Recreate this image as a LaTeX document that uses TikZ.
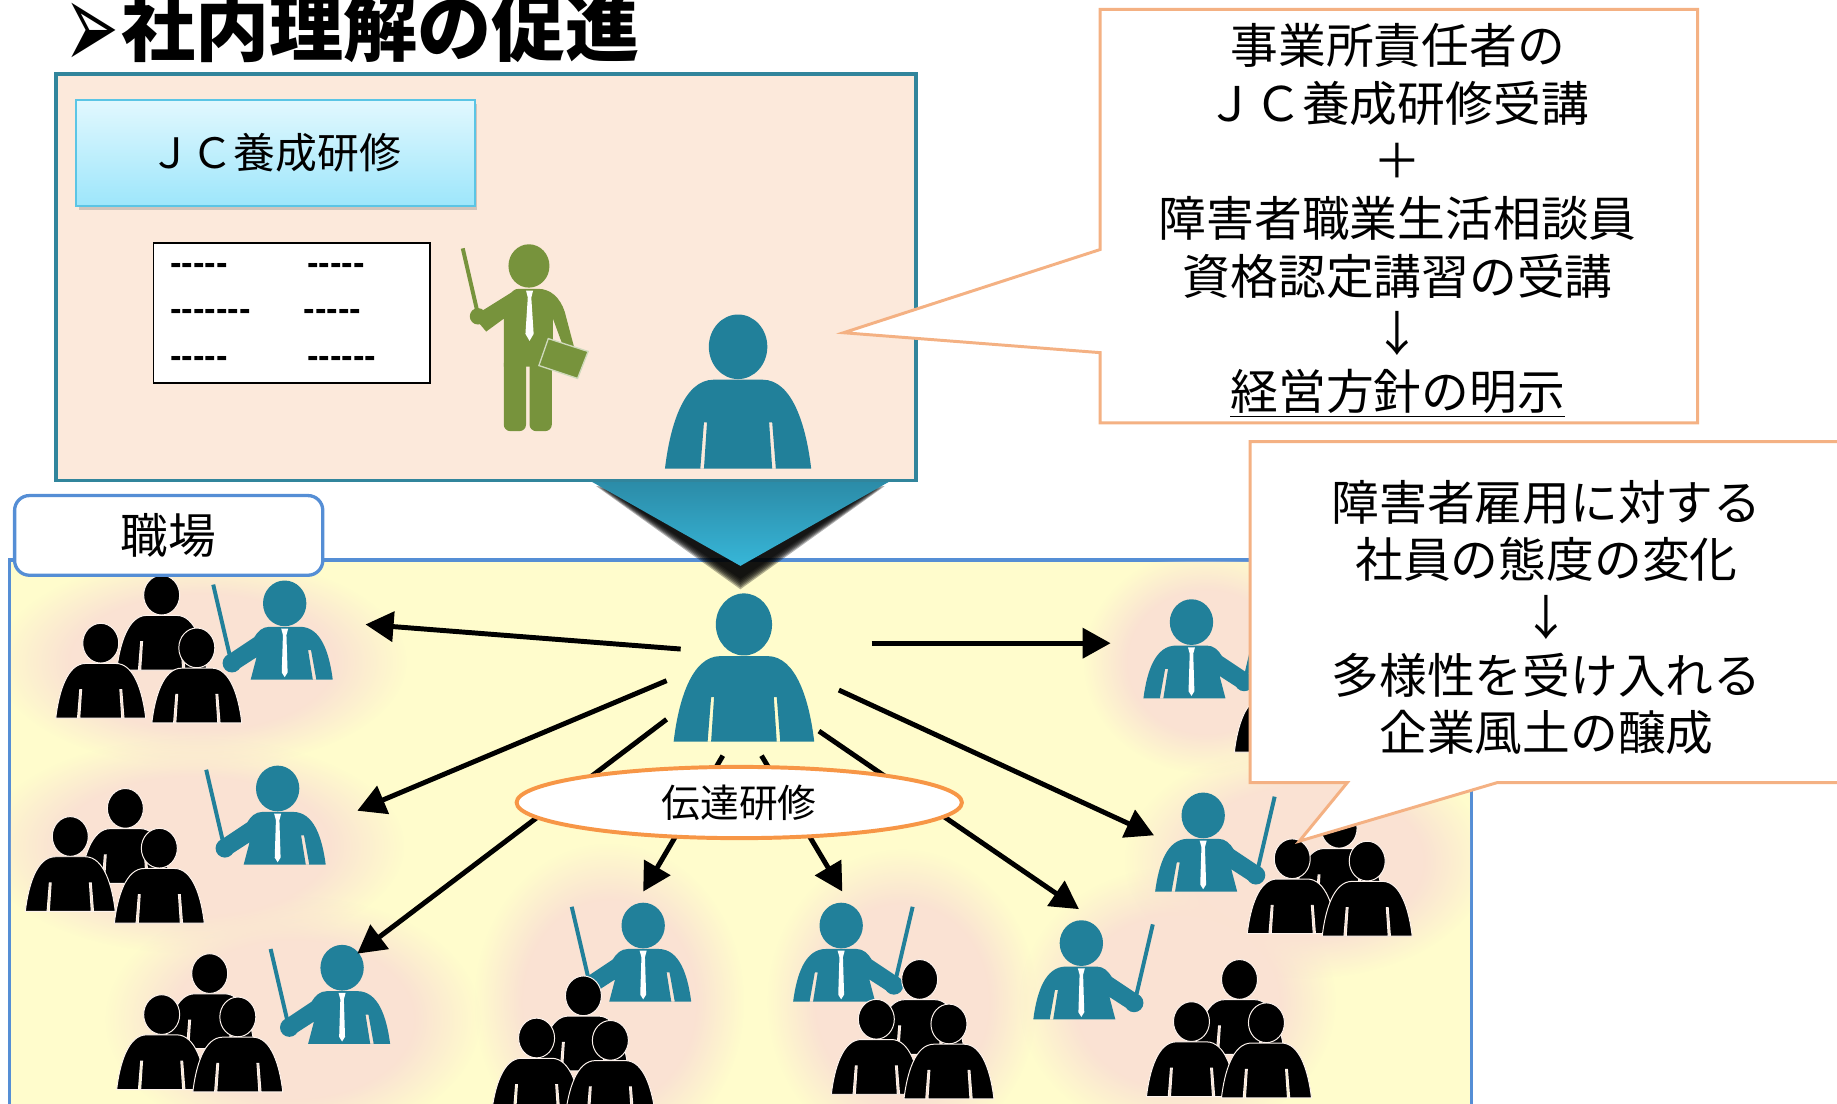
\documentclass[tikz,border=0pt]{standalone}
\usepackage{fontspec}
\usetikzlibrary{arrows.meta, fit, shapes.geometric, shadows, fadings}

\newfontfamily\jp{Noto Sans CJK JP}
\newfontfamily\dingfont{DejaVu Sans}
\newfontfamily\dashfont{Liberation Sans}[Ligatures=TeXOff]

\definecolor{deskpeach}{HTML}{FCE9DB}
\definecolor{frameteal}{HTML}{31859C}
\definecolor{figteal}{HTML}{21809A}
\definecolor{figgreen}{HTML}{77933C}
\definecolor{jctop}{HTML}{E2F8FE}
\definecolor{jcbot}{HTML}{9DE6FB}
\definecolor{jcline}{HTML}{5BC5E5}
\definecolor{floorfill}{HTML}{FFFCCC}
\definecolor{floorline}{HTML}{558ED5}
\definecolor{glowpeach}{HTML}{FAE2D3}
\definecolor{calloutline}{HTML}{F4B183}
\definecolor{ringorange}{HTML}{F79646}
\definecolor{chevtop}{HTML}{2B8BA7}
\definecolor{chevbot}{HTML}{37B6D8}

\pgfdeclareradialshading{blobmask}{\pgfpointorigin}{color(0bp)=(pgftransparent!0); color(16bp)=(pgftransparent!0); color(25bp)=(pgftransparent!100); color(50bp)=(pgftransparent!100)}
\pgfdeclarefading{softblob}{\pgfuseshading{blobmask}}

\tikzset{
  % plain figure, head at the origin
  figure/.pic={
    \path[figbody] (0,0) ellipse (24 and 26.5);
    \path[figbody, even odd rule] (-60,100) .. controls (-56,66) and (-45,27) .. (-20,27) -- (20,27) .. controls (45,27) and (56,66) .. (60,100) -- cycle
      (-28,62) -- (-25.5,62) -- (-28,100) -- (-31,100) -- cycle
      (28,62) -- (25.5,62) -- (28,100) -- (31,100) -- cycle;
  },
  figbody/.style={fill},
  % figure with pointer and tie
  teacher/.pic={
    \draw[line width=2.4pt] (-61,-16) -- (-47,44);
    \fill (0,0) ellipse (18.5 and 19.5);
    \fill[even odd rule] (41,65) .. controls (38,42) and (31,20) .. (13,20) -- (-13,20) .. controls (-19,20) and (-23,24) .. (-26,29) -- (-50,45) -- (-41,57) -- (-24,46) -- (-29,65) -- cycle
      (20,40) -- (22.5,40) -- (27,65) -- (24,65) -- cycle;
    \fill (-45,51) circle (8);
    \fill[white] (-3,21.5) -- (3,21.5) -- (1.5,27) -- (2.5,59) -- (0,63) -- (-2.5,59) -- (-1.5,27) -- cycle;
  },
  crowd/.style={scale=.64, figbody/.style={fill=black, draw=glowpeach!40!white, line width=.6pt}},
  deskbox/.style={draw=frameteal, fill=deskpeach, line width=2.2pt, inner sep=0pt},
  floorbox/.style={draw=floorline, fill=floorfill, line width=2.2pt, inner sep=0pt},
  jcbox/.style={draw=jcline, line width=1.2pt, top color=jctop, bottom color=jcbot,
    drop shadow={shadow xshift=1.5pt, shadow yshift=-2.5pt, opacity=.35},
    minimum width=8.5cm, minimum height=2.27cm, font=\jp\fontsize{25.4pt}{25.4pt}\selectfont},
  board/.style={draw=black, fill=white, line width=1.1pt, minimum width=5.9cm, minimum height=2.99cm},
  dashrow/.style={anchor=west, inner sep=0pt, font=\dashfont\bfseries\fontsize{21pt}{21pt}\selectfont},
  callout/.style={draw=calloutline, fill=white, line width=1.8pt},
  calltext/.style={align=center, inner sep=0pt, font=\jp\fontsize{29pt}{35pt}\selectfont},
  ring/.style={ellipse, draw=ringorange, fill=white, line width=2.4pt, minimum width=9.5cm,
    minimum height=1.52cm, inner sep=0pt, font=\jp\fontsize{23.5pt}{23.5pt}\selectfont},
  tagbox/.style={draw=floorline, fill=white, rounded corners=9pt, line width=2pt,
    minimum width=6.575cm, minimum height=1.7cm, font=\jp\fontsize{29pt}{29pt}\selectfont},
  push/.style={line width=3pt, -{Triangle[length=17pt, width=18pt]}},
}

\begin{document}
\begin{tikzpicture}[x=0.025cm, y=-0.025cm]
\useasboundingbox (0,0) rectangle (1568,942);
\clip (0,0) rectangle (1568,942);

% workplace
\node[floorbox, fit={(8,478) (1256,960)}] (floor) {};
\begin{scope}
  \clip (9,479) rectangle (1255,960);
  \foreach \cx/\cy/\rx/\ry in {172/565/175/90, 165/722/180/92, 250/870/160/105, 520/855/115/135,
      770/855/115/130, 1005/855/135/115, 1115/735/155/100, 1030/565/105/95}
    \fill[glowpeach, path fading=softblob] (\cx,\cy) ellipse [x radius=\rx, y radius=\ry];
\end{scope}

% trainers in each group
\foreach \tx/\ty/\side in {243/515/1, 237/673/1, 292/826/1, 549/790/1,
    718/790/-1, 923/805/-1, 1027/696/-1, 1017/531/-1}
  \pic[color=figteal, xscale=\side] at (\tx,\ty) {teacher};

% colleagues
\foreach \bx/\by/\lx/\ly/\rx/\ry in {138/508/86/549/168/553, 107/690/60/714/136/724,
    179/831/138/866/203/868, 498/850/458/886/521/888, 785/836/748/870/810/874,
    1058/836/1017/872/1081/873, 1143/707/1103/733/1167/735, 1130/555/1092/578/1158/582} {
  \pic[crowd] at (\bx,\by) {figure};
  \pic[crowd] at (\lx,\ly) {figure};
  \pic[crowd] at (\rx,\ry) {figure};
}

% relay arrows
\coordinate (lead) at (635,533);
\foreach \i/\sx/\sy/\gx/\gy in {1/581/554/312/533, 2/569/581/305/692, 3/569/614/305/814,
    4/617/645/549/761, 5/650/645/719/761, 6/699/624/921/776, 7/716/589/985/713, 8/744/549/948/549} {
  \coordinate (s\i) at (\sx,\sy);
  \coordinate (g\i) at (\gx,\gy);
  \draw[push] (s\i) -- (g\i);
}
\pic[color=figteal] at (lead) {figure};
\node[ring] (relay) at (631,685) {伝達研修};

\node[tagbox] (shokuba) at (144,457) {\raisebox{-3pt}{職場}};

% down arrow with shadow
\foreach \k in {0,...,6}
  \fill[black, opacity=.3] ({524-2.5*\k},{421-\k}) -- ({740+2.5*\k},{421-\k}) -- (632,{494+1.5*\k}) -- cycle;
\shade[top color=chevtop, bottom color=chevbot] (503,410) -- (761,410) -- (632,483) -- cycle;

% training room
\node[deskbox, fit={(48,63) (782,410)}] (course) {};
\node[jcbox] (jc) at (235,130.5) {ＪＣ養成研修};
\node[board] (board) at (249,267) {};
\foreach \x/\y/\d [count=\i] in {145/230/-----, 262/230/-----, 145/269/-------,
    259/269/-----, 145/309/-----, 262/309/------}
  \node[dashrow] (dash\i) at (\x,\y) {\d};

% lecturer
\begin{scope}[color=figgreen]
  \draw[line width=2.4pt] (395,212) -- (407,264);
  \fill (451.5,227) ellipse (17.5 and 18.5);
  \fill (436,250) .. controls (440,246.5) .. (446,246.5) -- (459,246.5) .. controls (470,246.5) and (478,254) .. (482,266)
    -- (491,300) -- (483,302) -- (472,272) -- (472,313) -- (430,313) -- (430,272) -- (415,283) -- (404,270) -- cycle;
  \fill (408,270) circle (7);
  \fill[rounded corners=4pt] (430,305) -- (449,305) -- (449,368) -- (430,368) -- cycle;
  \fill[rounded corners=4pt] (452,305) -- (471,305) -- (471,368) -- (452,368) -- cycle;
  \fill[white] (449,248) -- (455,248) -- (453.5,254) -- (455.5,285) -- (452,291) -- (448.5,285) -- (450.5,254) -- cycle;
  \filldraw[draw=figgreen!35!white, line width=.8pt] (468,289) -- (502,300) -- (493,323) -- (460,312) -- cycle;
\end{scope}
\pic[color=figteal, scale=1.04] at (630,296) {figure};

% callouts
\draw[callout] (939,8) -- (1449,8) -- (1449,361) -- (939,361) -- (939,301) -- (720,284) -- (939,213) -- cycle;
\node[calltext] (plan) at (1193,188) {事業所責任者の\\ＪＣ養成研修受講\\＋\\障害者職業生活相談員\\資格認定講習の受講\\↓\\\underline{経営方針の明示}};
\draw[callout] (1067,377) -- (1600,377) -- (1600,668) -- (1278,668) -- (1109,718) -- (1150,668) -- (1067,668) -- cycle;
\node[calltext] (change) at (1320,527) {障害者雇用に対する\\社員の態度の変化\\↓\\多様性を受け入れる\\企業風土の醸成};

% heading
\node[anchor=base west, inner sep=0pt] (title) at (55,47) {\raisebox{-9pt}{\dingfont\fontsize{36pt}{36pt}\selectfont\scalebox{1.1}[2.1]{➢}}\hspace{1pt}{\jp\bfseries\fontsize{45pt}{45pt}\selectfont 社内理解の促進}};
\end{tikzpicture}
\end{document}
